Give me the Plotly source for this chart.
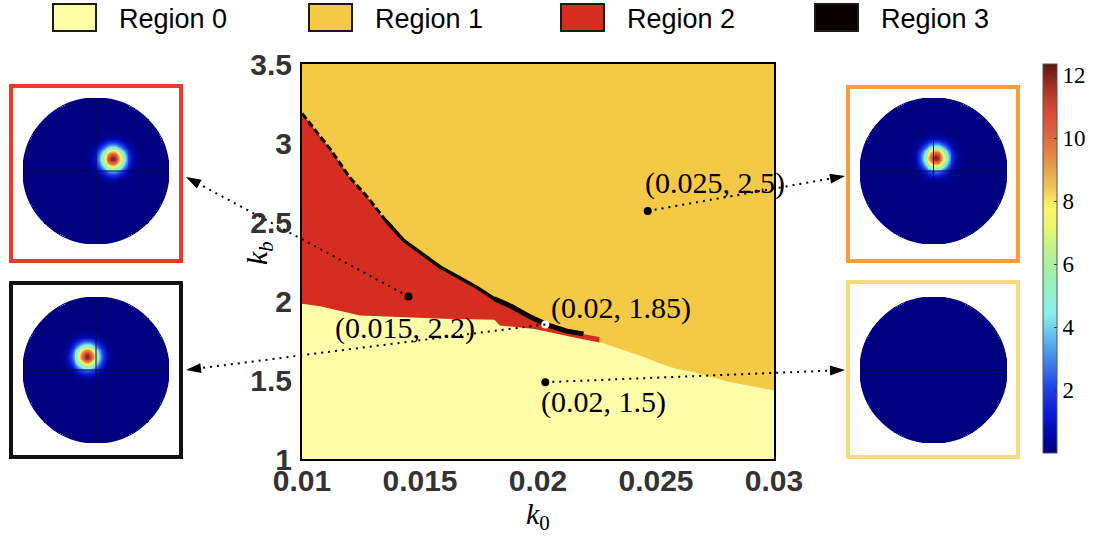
import numpy as np
import plotly.graph_objects as go

# figure fills the whole window (the page margin is removed after plotting)
OFF = 0
W, H = 1098 - OFF, 542 - OFF

# ---------------- data ----------------
region_names = ["Region 0", "Region 1", "Region 2", "Region 3"]
region_colors = ["#FFFDA8", "#F4C945", "#D52D1F", "#0B0000"]

# boundary between Region 0 (below) and Regions 1/2 (above)
k0_lower = [0.0100, 0.01077, 0.01246, 0.01431, 0.0160, 0.01815, 0.01838, 0.01985,
            0.02077, 0.02169, 0.02277, 0.02369, 0.02431, 0.02523, 0.02585, 0.02662,
            0.02738, 0.02815, 0.02892, 0.0300]
kb_lower = [1.983, 1.966, 1.909, 1.898, 1.888, 1.881, 1.845, 1.822,
            1.792, 1.764, 1.732, 1.687, 1.655, 1.602, 1.571, 1.549,
            1.518, 1.486, 1.465, 1.433]

# upper edge of Region 2 (where Region 3 band lies)
k0_upper = [0.0100, 0.01046, 0.01123, 0.0120, 0.01277, 0.01354, 0.01431, 0.01508,
            0.01585, 0.01662, 0.01738, 0.01815, 0.01892, 0.01969, 0.02046, 0.02123,
            0.02192, 0.0226]
kb_upper = [3.187, 3.103, 2.955, 2.786, 2.659, 2.511, 2.384, 2.300,
            2.215, 2.152, 2.088, 2.014, 1.962, 1.898, 1.845, 1.809,
            1.792, 1.772]

# sample points
point_k0 = [0.01451, 0.02031, 0.02031, 0.02465]
point_kb = [2.029, 1.852, 1.486, 2.570]
point_labels = ["(0.015, 2.2)", "(0.02, 1.85)", "(0.02, 1.5)", "(0.025, 2.5)"]
point_fill = ["black", "white", "black", "black"]

x_ticks = [0.01, 0.015, 0.02, 0.025, 0.03]
x_ticktext = ["0.01", "0.015", "0.02", "0.025", "0.03"]
y_ticks = [1, 1.5, 2, 2.5, 3, 3.5]
y_ticktext = ["1", "1.5", "2", "2.5", "3", "3.5"]
x_range = [0.01, 0.03]
y_range = [1.0, 3.5]

# inset density spots (disc coordinates); insets: top-left, bottom-left, top-right, bottom-right
spot_x = [0.236, -0.118, 0.036, 0.0]
spot_y = [0.164, 0.182, 0.177, 0.0]
spot_peak = [12.0, 12.0, 12.0, 0.0]
spot_sigma = 0.115
cbar_ticks = [2, 4, 6, 8, 10, 12]
cbar_max = 12.35

# which inset each sample point points to
point_inset = [0, 1, 3, 2]

# ---------------- layout constants (window pixels) ----------------
main_px = dict(left=302, right=774, top=64, bottom=459)
inset_disc = [(23, 98, 169, 244), (23, 297, 169, 443), (860, 98, 1007, 244), (860, 297, 1007, 443)]
inset_box = [(11, 86, 181, 261), (11, 283, 181, 457), (848, 87, 1018, 261), (848, 282, 1018, 457)]
inset_box_color = ["#EE3A2A", "#111111", "#F0A03C", "#F8DA80"]
inset_arrow_tip = [(186, 177), (186, 370), (845, 176), (845, 370)]
label_shift = [(-3, -32), (76, 16), (58, -20), (67, 28)]
legend_swatch_x = [53, 309, 561, 815]

jet_like = [
    [0.00, "#000080"], [0.05, "#0008A8"], [0.10, "#0A1ADA"], [0.17, "#2244E6"],
    [0.26, "#4C9AE8"], [0.36, "#88F0F0"], [0.44, "#98F0B8"], [0.52, "#BCF290"],
    [0.58, "#E8F870"], [0.63, "#FCF866"], [0.68, "#F0C858"], [0.74, "#E49A4A"],
    [0.82, "#DC6440"], [0.88, "#D84A38"], [0.94, "#A83224"], [1.00, "#5E1410"],
]


def pxx(px):
    return (px - OFF) / W


def pxy(py):
    return 1 - (py - OFF) / H


def data_to_px(x, y):
    px = main_px["left"] + (x - x_range[0]) / (x_range[1] - x_range[0]) * (main_px["right"] - main_px["left"])
    py = main_px["bottom"] - (y - y_range[0]) / (y_range[1] - y_range[0]) * (main_px["bottom"] - main_px["top"])
    return px, py


fig = go.Figure()

# Region 2 polygon (covered below by Region 0)
fig.add_trace(go.Scatter(
    x=k0_upper + [k0_upper[-1], x_range[0]],
    y=kb_upper + [y_range[0], y_range[0]],
    fill="toself", fillcolor=region_colors[2], mode="lines", line=dict(width=0),
    hoverinfo="skip", showlegend=False))
# Region 0 polygon
fig.add_trace(go.Scatter(
    x=k0_lower + [x_range[1], x_range[0]],
    y=kb_lower + [y_range[0], y_range[0]],
    fill="toself", fillcolor=region_colors[0], mode="lines", line=dict(width=0),
    hoverinfo="skip", showlegend=False))
# Region 3 band
n_top = 6
fig.add_trace(go.Scatter(x=k0_upper[:n_top], y=kb_upper[:n_top], mode="lines",
                         line=dict(color=region_colors[3], width=3, dash="7px,3px"),
                         hoverinfo="skip", showlegend=False))
fig.add_trace(go.Scatter(x=k0_upper[n_top - 1:-1], y=kb_upper[n_top - 1:-1], mode="lines",
                         line=dict(color=region_colors[3], width=3.5),
                         hoverinfo="skip", showlegend=False))
fig.add_trace(go.Scatter(x=k0_upper[11:-1], y=kb_upper[11:-1], mode="lines",
                         line=dict(color=region_colors[3], width=5),
                         hoverinfo="skip", showlegend=False))
# points
fig.add_trace(go.Scatter(x=point_k0, y=point_kb, mode="markers",
                         marker=dict(size=8, color=point_fill, line=dict(width=0)),
                         hoverinfo="skip", showlegend=False, cliponaxis=False))

# Region 1 background
shapes = [dict(type="rect", xref="x", yref="y", x0=x_range[0], x1=x_range[1], y0=y_range[0], y1=y_range[1],
               fillcolor=region_colors[1], line=dict(width=0), layer="below")]
annotations = []

# insets
n = 161
g = np.linspace(-1, 1, n)
X, Y = np.meshgrid(g, g)
inside = X ** 2 + Y ** 2 <= 1.0
for i in range(4):
    z = spot_peak[i] * np.exp(-((X - spot_x[i]) ** 2 + (Y - spot_y[i]) ** 2) / (2 * spot_sigma ** 2))
    z = np.where(inside, z, np.nan)
    ax_id = i + 2
    fig.add_trace(go.Heatmap(x=g, y=g, z=z, coloraxis="coloraxis", xaxis=f"x{ax_id}", yaxis=f"y{ax_id}",
                             zsmooth=False, hoverinfo="skip"))
    fig.add_trace(go.Scatter(x=[-1, 1, None, 0, 0], y=[0, 0, None, -1, 1], mode="lines",
                             line=dict(color="#0A0A3C", width=1), xaxis=f"x{ax_id}", yaxis=f"y{ax_id}",
                             hoverinfo="skip", showlegend=False))
    l, t, r, b = inset_disc[i]
    fig.update_layout(**{
        f"xaxis{ax_id}": dict(domain=[pxx(l), pxx(r)], range=[-1, 1], visible=False, anchor=f"y{ax_id}"),
        f"yaxis{ax_id}": dict(domain=[pxy(b), pxy(t)], range=[-1, 1], visible=False, anchor=f"x{ax_id}"),
    })
    shapes.append(dict(type="circle", xref=f"x{ax_id}", yref=f"y{ax_id}", x0=-1, x1=1, y0=-1, y1=1,
                       line=dict(color="#000080", width=1.2), fillcolor="rgba(0,0,0,0)"))
    bl, bt, br, bb = inset_box[i]
    shapes.append(dict(type="rect", xref="paper", yref="paper", x0=pxx(bl), x1=pxx(br), y0=pxy(bb), y1=pxy(bt),
                       line=dict(color=inset_box_color[i], width=4), fillcolor="rgba(0,0,0,0)"))

# dotted arrows from each sample point to its inset
for i in range(4):
    sx, sy = data_to_px(point_k0[i], point_kb[i])
    tx, ty = inset_arrow_tip[point_inset[i]]
    dx, dy = tx - sx, ty - sy
    L = (dx ** 2 + dy ** 2) ** 0.5
    ux, uy = dx / L, dy / L
    bx, by = tx - 15 * ux, ty - 15 * uy
    shapes.append(dict(type="line", xref="paper", yref="paper", x0=pxx(sx), y0=pxy(sy), x1=pxx(bx), y1=pxy(by),
                       line=dict(color="black", width=2, dash="2px,5px")))
    nx, ny = -uy, ux
    path = (f"M {pxx(tx)},{pxy(ty)} L {pxx(bx + 5 * nx)},{pxy(by + 5 * ny)} "
            f"L {pxx(bx - 5 * nx)},{pxy(by - 5 * ny)} Z")
    shapes.append(dict(type="path", xref="paper", yref="paper", path=path,
                       fillcolor="black", line=dict(width=0)))

# point labels
for i in range(4):
    annotations.append(dict(x=point_k0[i], y=point_kb[i], xref="x", yref="y", text=point_labels[i],
                            showarrow=False, xshift=label_shift[i][0], yshift=label_shift[i][1],
                            xanchor="center", yanchor="middle",
                            font=dict(family="Liberation Serif", size=30, color="black")))

# legend
for i in range(4):
    sx0 = legend_swatch_x[i]
    shapes.append(dict(type="rect", xref="paper", yref="paper", x0=pxx(sx0), x1=pxx(sx0 + 43),
                       y0=pxy(31), y1=pxy(4), fillcolor=region_colors[i],
                       line=dict(color="#1A1A1A", width=2)))
    annotations.append(dict(x=pxx(sx0 + 64), y=pxy(19), xref="paper", yref="paper", xanchor="left",
                            yanchor="middle", text=region_names[i], showarrow=False,
                            font=dict(family="Liberation Sans", size=27, color="black")))

# axis titles
annotations.append(dict(x=pxx(538), y=pxy(516), xref="paper", yref="paper", showarrow=False,
                        xanchor="center", yanchor="middle",
                        text="<i>k</i><sub>0</sub>", font=dict(family="Liberation Serif", size=30, color="black")))
annotations.append(dict(x=pxx(259), y=pxy(253), xref="paper", yref="paper", showarrow=False, textangle=-90,
                        xanchor="center", yanchor="middle",
                        text="<i>k</i><sub><i>b</i></sub>", font=dict(family="Liberation Serif", size=30, color="black")))

tickfont = dict(family="Liberation Sans", size=30, color="#333333", weight="bold")
fig.update_layout(
    width=W, height=H, margin=dict(l=0, r=0, t=0, b=0, autoexpand=False),
    paper_bgcolor="white", plot_bgcolor="rgba(0,0,0,0)", showlegend=False,
    xaxis=dict(domain=[pxx(main_px["left"]), pxx(main_px["right"])], range=x_range, tickvals=x_ticks,
               ticktext=x_ticktext, showline=True, mirror=True, linecolor="black", linewidth=2,
               showgrid=False, zeroline=False, ticks="", tickfont=tickfont, ticklabelstandoff=-6,
               automargin=False),
    yaxis=dict(domain=[pxy(main_px["bottom"]), pxy(main_px["top"])], range=y_range, tickvals=y_ticks,
               ticktext=y_ticktext, showline=True, mirror=True, linecolor="black", linewidth=2,
               showgrid=False, zeroline=False, ticks="", tickfont=tickfont, ticklabelstandoff=2,
               automargin=False),
    coloraxis=dict(colorscale=jet_like, cmin=0, cmax=cbar_max,
                   colorbar=dict(x=pxx(1043), xanchor="left", xpad=0, y=pxy(453), yanchor="bottom", ypad=0,
                                 len=(453 - 64) / H, lenmode="fraction", thickness=14, thicknessmode="pixels",
                                 outlinewidth=1, outlinecolor="#555555", tickvals=cbar_ticks,
                                 ticks="inside", ticklen=3, tickcolor="#333333",
                                 tickfont=dict(family="Liberation Serif", size=23, color="black"))),
    shapes=shapes, annotations=annotations,
)

fig.write_html("out.html", config={"displayModeBar": False},
               post_script="document.body.style.margin='0px';")
